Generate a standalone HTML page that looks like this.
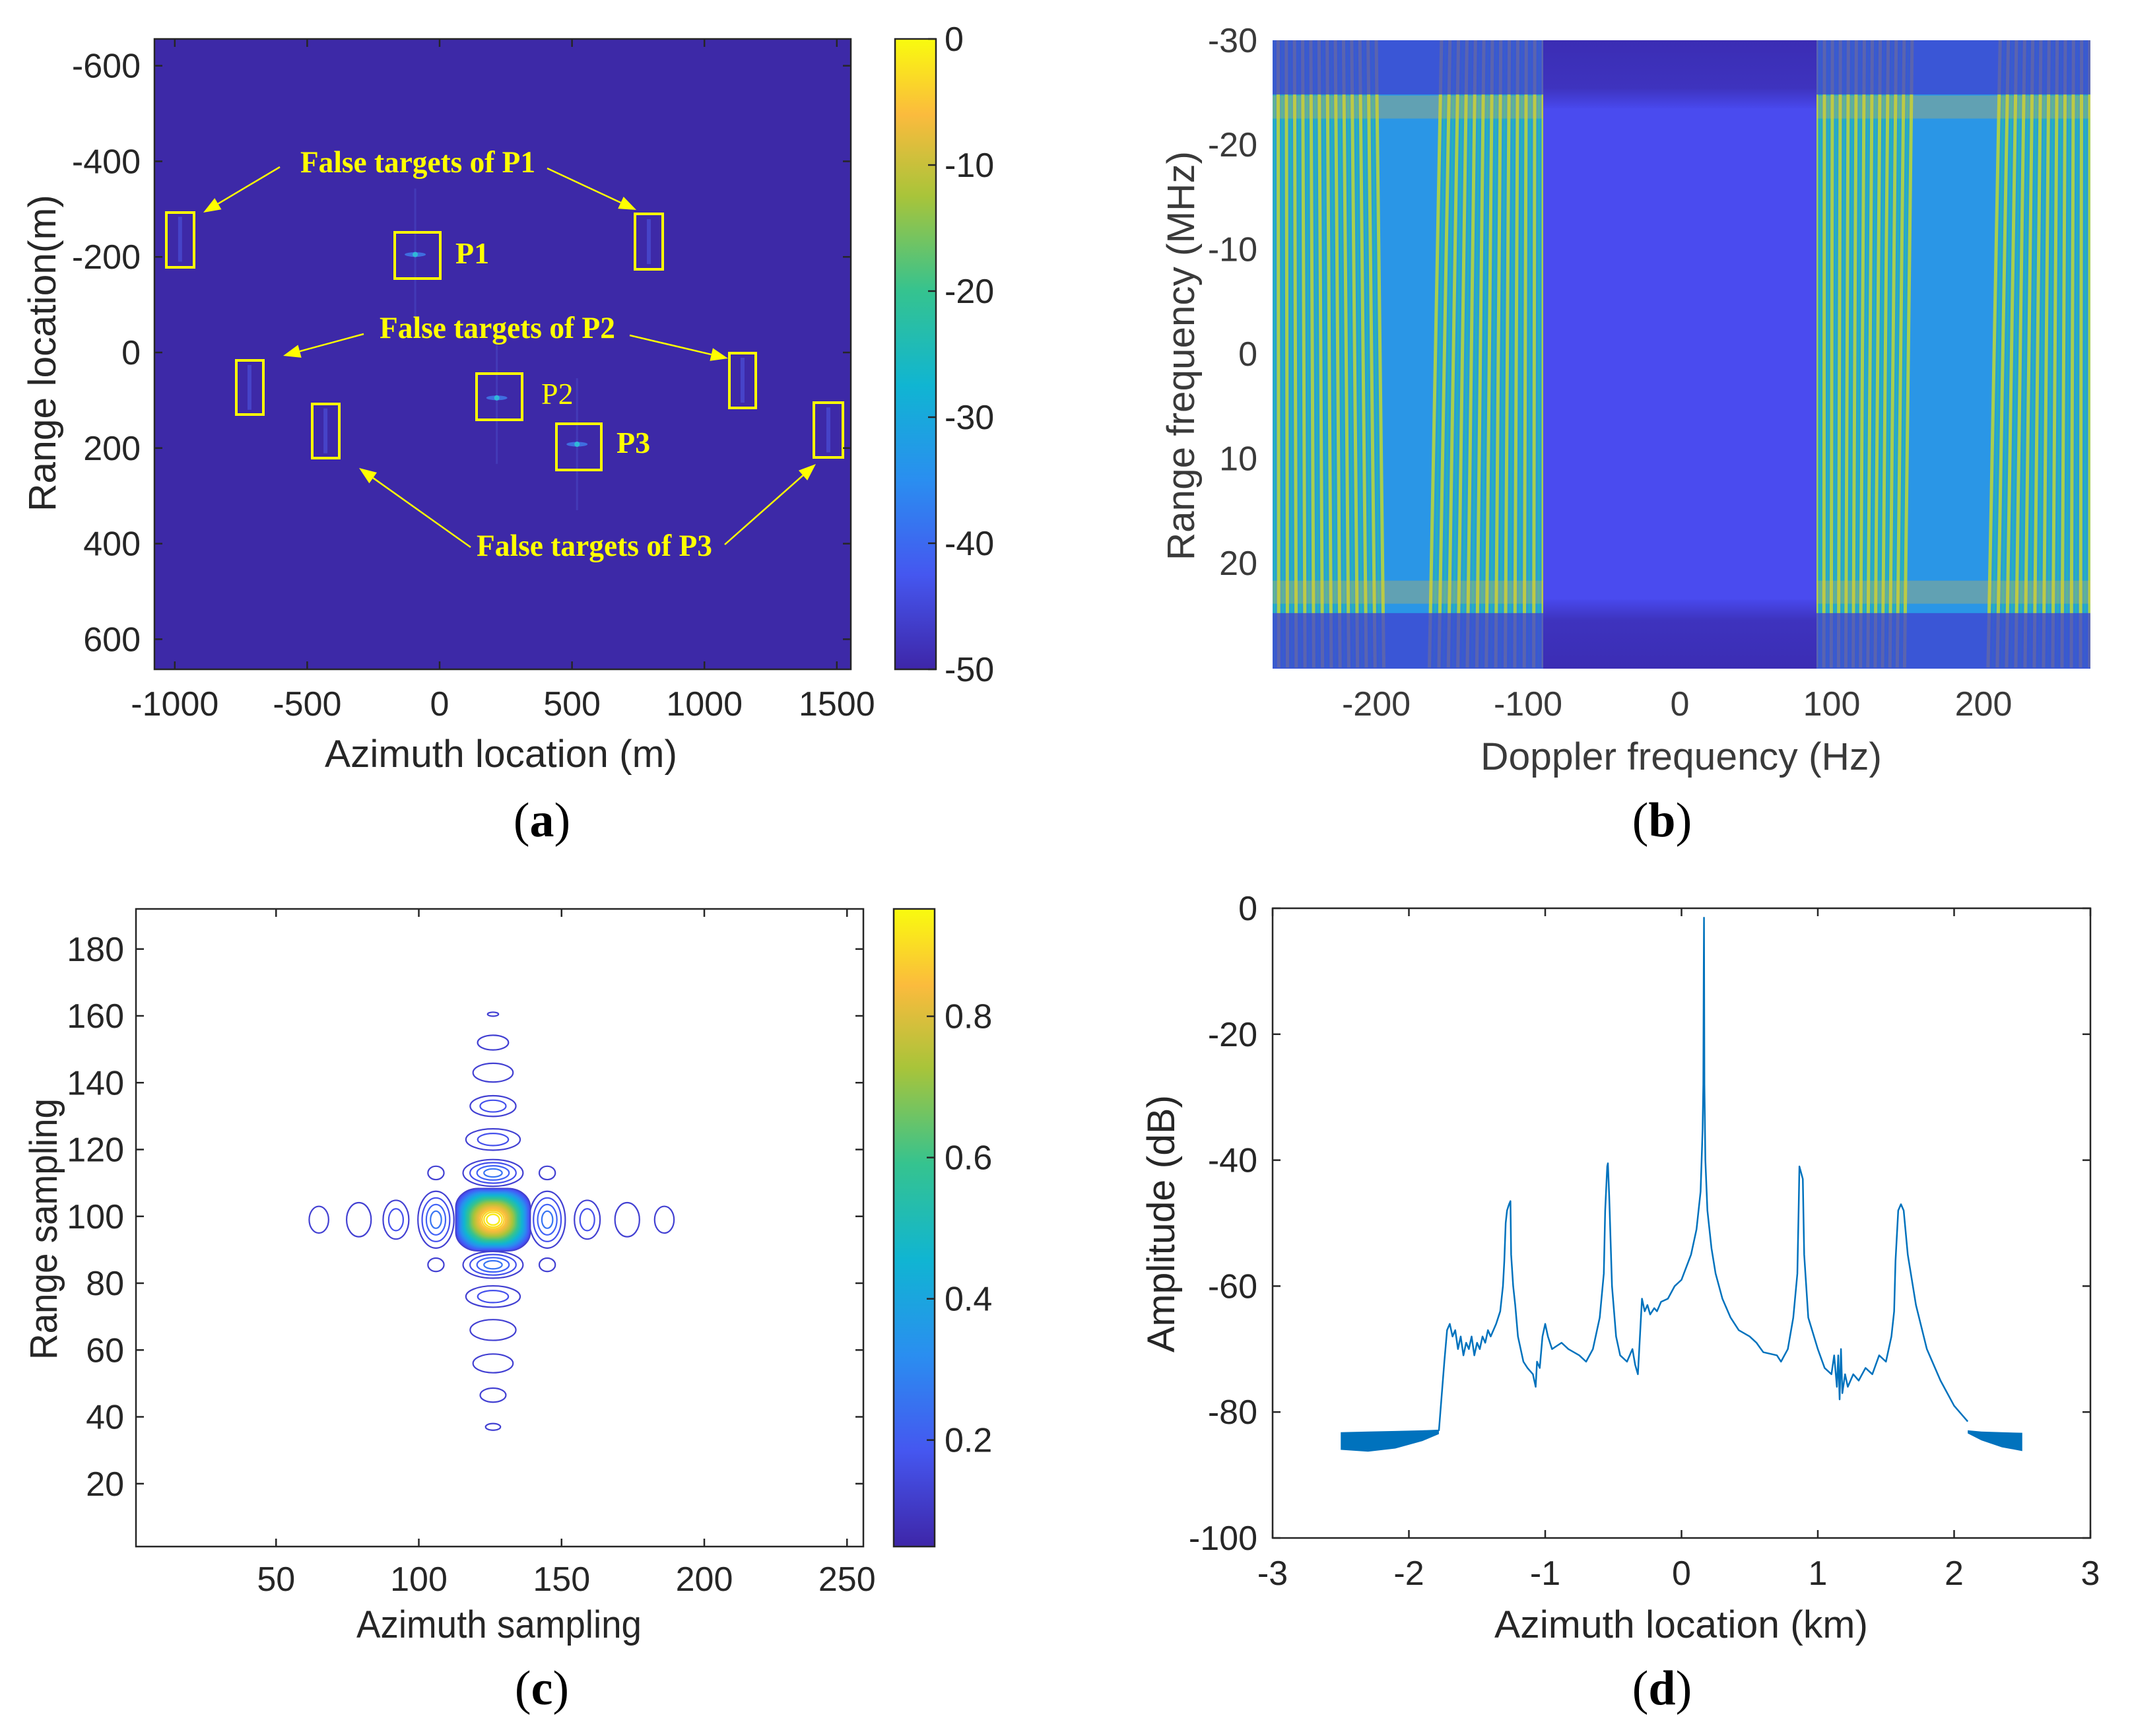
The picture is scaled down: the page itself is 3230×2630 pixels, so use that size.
<!DOCTYPE html>
<html><head><meta charset="utf-8">
<style>
html,body{margin:0;padding:0;background:#fff;}
svg{display:block;}
</style></head>
<body>
<svg id="fig" xmlns="http://www.w3.org/2000/svg" width="3230" height="2630" viewBox="0 0 3230 2630">
<defs>
<linearGradient id="parulaV" x1="0" y1="1" x2="0" y2="0">
<stop offset="0" stop-color="#3e26a8"/><stop offset="0.15" stop-color="#4557f0"/>
<stop offset="0.3" stop-color="#2a8ef0"/><stop offset="0.45" stop-color="#10b5d2"/>
<stop offset="0.6" stop-color="#35c38f"/><stop offset="0.75" stop-color="#a8c43a"/>
<stop offset="0.88" stop-color="#fbbb3d"/><stop offset="1" stop-color="#f9fb0e"/>
</linearGradient>
<linearGradient id="bTop" x1="0" y1="0" x2="0" y2="1">
<stop offset="0" stop-color="#3b2db4"/><stop offset="0.7" stop-color="#3e33be"/><stop offset="1" stop-color="#4848ec"/>
</linearGradient>
<linearGradient id="bBot" x1="0" y1="1" x2="0" y2="0">
<stop offset="0" stop-color="#3b2db4"/><stop offset="0.7" stop-color="#3e33be"/><stop offset="1" stop-color="#4848ec"/>
</linearGradient>
<clipPath id="clipB"><rect x="1928" y="61" width="1239" height="952"/></clipPath>
<clipPath id="clipA"><rect x="234" y="59" width="1055" height="955"/></clipPath>
</defs>
</svg>
<script>
// ---------- data ----------
// Panel (a)
const aXTicks = [-1000,-500,0,500,1000,1500];
const aYTicks = [-600,-400,-200,0,200,400,600];
const aCbTicks = [0,-10,-20,-30,-40,-50];
const aTargetAz = [-92,216,519];
const aTargetRg = [-205,95,192];
const aTargetNames = ['P1','P2','P3'];
const aFalseAz = [-980,790,-718,1144,-431,1468];
const aFalseRg = [-237,-232,73,58,164,162];
// Panel (b)
const bXTicks = [-200,-100,0,100,200];
const bYTicks = [-30,-20,-10,0,10,20];
const bBlockStartTop = [-270,-157,90,211];
const bBlockEndTop = [-200,-90,153,270];
const bBlockStartBot = [-270,-165,90,203];
const bBlockEndBot = [-195,-90,148,270];
const bCenterBand = [-90,90];
// Panel (c)
const cXTicks = [50,100,150,200,250];
const cYTicks = [20,40,60,80,100,120,140,160,180];
const cCbTicks = [0.2,0.4,0.6,0.8];
const cAzLobeX = [65,79,92,106,145,159,173,186];
const cAzLobeRx = [3.4,4.3,4.5,6.3,6.3,4.5,4.3,3.4];
const cAzLobeRy = [4,5.1,5.8,8.5,8.5,5.8,5.1,4];
const cAzLobeRings = [1,1,2,4,4,2,1,1];
const cRgLobeY = [160.5,152,143,133,123,113,85.5,76,66,56,46.5,37];
const cRgLobeRx = [1.9,5.4,7,8,9.5,10.5,10.5,9.5,8,7,4.5,2.6];
const cRgLobeRy = [0.6,2.2,2.8,3.1,3.2,4,4,3.2,3.1,2.8,2.1,1];
const cRgLobeRings = [1,1,1,2,2,4,4,2,1,1,1,1];
const cDiagX = [106,145,106,145];
const cDiagY = [113,113,85.5,85.5];
const cCenter = [126,99];
// Panel (d)
const dXTicks = [-3,-2,-1,0,1,2,3];
const dYTicks = [0,-20,-40,-60,-80,-100];
const dX = [-1.78,-1.74,-1.72,-1.7,-1.68,-1.66,-1.64,-1.62,-1.6,-1.58,-1.56,-1.54,-1.52,-1.5,-1.48,-1.46,-1.44,-1.42,-1.4,-1.36,-1.33,-1.31,-1.3,-1.29,-1.28,-1.265,-1.255,-1.25,-1.235,-1.22,-1.2,-1.16,-1.13,-1.09,-1.07,-1.06,-1.04,-1.02,-1.0,-0.98,-0.95,-0.88,-0.83,-0.75,-0.7,-0.65,-0.6,-0.57,-0.56,-0.545,-0.54,-0.53,-0.51,-0.48,-0.45,-0.4,-0.36,-0.34,-0.32,-0.3,-0.29,-0.27,-0.25,-0.23,-0.2,-0.18,-0.15,-0.1,-0.05,0,0.07,0.11,0.14,0.155,0.16,0.163,0.165,0.168,0.175,0.19,0.22,0.25,0.3,0.36,0.42,0.5,0.55,0.6,0.7,0.73,0.78,0.82,0.85,0.86,0.865,0.89,0.9,0.93,1.0,1.05,1.1,1.12,1.14,1.15,1.16,1.17,1.18,1.2,1.22,1.26,1.3,1.35,1.4,1.45,1.5,1.54,1.56,1.57,1.59,1.61,1.63,1.66,1.72,1.8,1.9,2.0,2.1];
const dY = [-83,-72,-67,-66,-68,-67,-70,-68,-71,-69,-70,-68,-71,-69,-70,-68,-69,-67,-68,-66,-64,-60,-56,-50,-48,-47,-46.5,-55,-60,-63,-68,-72,-73,-74,-76,-72,-73,-68,-66,-68,-70,-69,-70,-71,-72,-70,-65,-58,-48,-41,-40.5,-46,-60,-68,-71,-72,-70,-72.5,-74,-66,-62,-64,-63,-64.5,-63.5,-64,-62.5,-62,-60,-59,-55,-51,-45,-35,-28,-10,-1.5,-28,-40,-48,-54,-58,-62,-65,-67,-68,-69,-70.5,-71,-72,-70,-65,-58,-47,-41,-43,-55,-65,-70,-73,-74,-71,-76,-71,-78,-70,-77,-74,-76,-74,-75,-73,-74,-71,-72,-68,-64,-56,-48,-47,-48,-55,-63,-70,-75,-79,-81.5,-83];
const dBandLX = [-2.5,-2.3,-2.1,-1.9,-1.78];
const dBandLTop = [-83.2,-83.1,-83.0,-82.9,-82.8];
const dBandLBot = [-86,-86.3,-85.8,-84.6,-83.5];
const dBandRX = [2.1,2.2,2.35,2.5];
const dBandRTop = [-82.9,-83.1,-83.2,-83.3];
const dBandRBot = [-83.4,-84.5,-85.6,-86.2];

// ---------- helpers ----------
const NS = 'http://www.w3.org/2000/svg';
const svg = document.getElementById('fig');
function mk(tag, attrs, parent) {
  const e = document.createElementNS(NS, tag);
  for (const k in attrs) e.setAttribute(k, attrs[k]);
  (parent || svg).appendChild(e);
  return e;
}
function txt(str, attrs, parent) {
  const e = mk('text', attrs, parent);
  e.textContent = str;
  return e;
}
function parula(t) {
  const st = [[0,62,38,168],[0.15,69,87,247],[0.3,42,142,240],[0.45,16,181,210],[0.6,53,195,143],[0.75,168,196,58],[0.88,251,187,61],[1,249,251,14]];
  t = Math.max(0, Math.min(1, t));
  for (let i = 1; i < st.length; i++) {
    if (t <= st[i][0]) {
      const a = st[i-1], b = st[i], f = (t - a[0]) / (b[0] - a[0]);
      return 'rgb(' + [1,2,3].map(j => Math.round(a[j] + (b[j]-a[j])*f)).join(',') + ')';
    }
  }
  return 'rgb(249,251,14)';
}
const SANS = '"Liberation Sans", Arial, sans-serif';
const SERIF = '"Liberation Serif", "Times New Roman", serif';
function panelLabel(g, letter, x, y, name) {
  const t = mk('text', {x:x, y:y, 'text-anchor':'middle', 'font-family':SERIF, 'font-size':74, fill:'#000'}, g);
  
  
  const s1 = mk('tspan', {}, t); s1.textContent = '(';
  const s2 = mk('tspan', {'font-weight':'bold'}, t); s2.textContent = letter;
  const s3 = mk('tspan', {}, t); s3.textContent = ')';
}

// ========== Panel (a) ==========
const ax = v => 666 + v * 0.4012;
const ay = v => 534 + v * 0.724;
const gA = mk('g', {});


const aBg = mk('rect', {x:234, y:59, width:1055, height:955, fill:'#3d29a7'}, gA);


const gAc = mk('g', {'clip-path':'url(#clipA)'}, gA);
for (let i = 0; i < aFalseAz.length; i++) {
  const s = mk('rect', {x: ax(aFalseAz[i]) - 3, y: ay(aFalseRg[i]) - 34, width: 6, height: 68, fill:'#4a4fd6', opacity:0.7}, gAc);
  
  
}
for (let i = 0; i < aTargetAz.length; i++) {
  const cxp = ax(aTargetAz[i]), cyp = ay(aTargetRg[i]);
  const v = mk('rect', {x: cxp - 1.5, y: cyp - 100, width: 3, height: 200, fill:'#4642be', opacity:0.7}, gAc);
  
  
  const h = mk('ellipse', {cx: cxp, cy: cyp, rx: 16, ry: 3.5, fill:'#3f6ee0'}, gAc);
  
  
  const d = mk('ellipse', {cx: cxp, cy: cyp, rx: 4, ry: 4, fill:'#30b8d8'}, gAc);
  
  
}
const Y = '#ffff00';
const aBoxes = [[252,322,42,83],[962,324,42,84],[598,352,69,70],[358,546,41,82],[1105,535,40,83],[722,566,69,70],[473,612,41,82],[1233,610,44,83],[843,642,68,70]];
const aBoxNames = ['p1-false-left-box','p1-false-right-box','p1-box','p2-false-left-box','p2-false-right-box','p2-box','p3-false-left-box','p3-false-right-box','p3-box'];
aBoxes.forEach((b, i) => {
  const r = mk('rect', {x:b[0], y:b[1], width:b[2], height:b[3], fill:'none', stroke:Y, 'stroke-width':4}, gA);
  
  
});
function arrow(x1, y1, x2, y2, name) {
  const g = mk('g', {}, gA);
  
  
  const ang = Math.atan2(y2 - y1, x2 - x1), L = 26, W = 10;
  const bx = x2 - L * Math.cos(ang), by = y2 - L * Math.sin(ang);
  mk('line', {x1, y1, x2: bx, y2: by, stroke: Y, 'stroke-width': 2.5}, g);
  const px = -Math.sin(ang) * W, py = Math.cos(ang) * W;
  mk('polygon', {points: `${x2},${y2} ${bx+px},${by+py} ${bx-px},${by-py}`, fill: Y}, g);
}
arrow(424,253,308,322,'p1-left-arrow');
arrow(829,255,964,318,'p1-right-arrow');
arrow(551,506,429,539,'p2-left-arrow');
arrow(954,508,1103,543,'p2-right-arrow');
arrow(713,829,544,709,'p3-left-arrow');
arrow(1098,825,1236,703,'p3-right-arrow');
const a1 = txt('False targets of P1', {x:455, y:261, 'font-family':SERIF, 'font-weight':'bold', 'font-size':47, fill:Y, textLength:356, lengthAdjust:'spacingAndGlyphs'}, gA);


const a2 = txt('False targets of P2', {x:575, y:512, 'font-family':SERIF, 'font-weight':'bold', 'font-size':47, fill:Y, textLength:357, lengthAdjust:'spacingAndGlyphs'}, gA);


const a3 = txt('False targets of P3', {x:722, y:842, 'font-family':SERIF, 'font-weight':'bold', 'font-size':47, fill:Y, textLength:357, lengthAdjust:'spacingAndGlyphs'}, gA);


const lp1 = txt('P1', {x:690, y:399, 'font-family':SERIF, 'font-weight':'bold', 'font-size':46, fill:Y}, gA);


const lp2 = txt('P2', {x:820, y:612, 'font-family':SERIF, 'font-size':46, fill:Y}, gA);


const lp3 = txt('P3', {x:934, y:686, 'font-family':SERIF, 'font-weight':'bold', 'font-size':46, fill:Y}, gA);



function frame(g, x0, y0, x1, y1, name) {
  const f = mk('rect', {x:x0, y:y0, width:x1-x0, height:y1-y0, fill:'none', stroke:'#262626', 'stroke-width':2.5}, g);
  
  
}
frame(gA, 234, 59, 1289, 1014, 'panel-a-axes-box');
aXTicks.forEach(v => {
  const x = ax(v);
  mk('line', {x1:x, y1:1014, x2:x, y2:1002, stroke:'#262626', 'stroke-width':2.5}, gA);
  mk('line', {x1:x, y1:59, x2:x, y2:71, stroke:'#262626', 'stroke-width':2.5}, gA);
  const t = txt(String(v), {x:x, y:1084, 'text-anchor':'middle', 'font-family':SANS, 'font-size':52, fill:'#262626'}, gA);
  
  
});
aYTicks.forEach(v => {
  const y = ay(v);
  mk('line', {x1:234, y1:y, x2:246, y2:y, stroke:'#262626', 'stroke-width':2.5}, gA);
  mk('line', {x1:1289, y1:y, x2:1277, y2:y, stroke:'#262626', 'stroke-width':2.5}, gA);
  const t = txt(String(v), {x:213, y:y + 18, 'text-anchor':'end', 'font-family':SANS, 'font-size':52, fill:'#262626'}, gA);
  
  
});
const axl = txt('Azimuth location (m)', {x:759, y:1162, 'text-anchor':'middle', 'font-family':SANS, 'font-size':58, fill:'#262626', textLength:534, lengthAdjust:'spacingAndGlyphs'}, gA);


const ayl = txt('Range location(m)', {x:0, y:0, transform:'translate(84,535) rotate(-90)', 'text-anchor':'middle', 'font-family':SANS, 'font-size':58, fill:'#262626', textLength:480, lengthAdjust:'spacingAndGlyphs'}, gA);


const cbA = v => 59 + (0 - v) / 50 * 955;
const cbaR = mk('rect', {x:1356, y:59, width:62, height:955, fill:'url(#parulaV)', stroke:'#262626', 'stroke-width':2.5}, gA);


aCbTicks.forEach(v => {
  const y = cbA(v);
  mk('line', {x1:1406, y1:y, x2:1418, y2:y, stroke:'#262626', 'stroke-width':2.5}, gA);
  const t = txt(String(v), {x:1431, y:y + 18, 'font-family':SANS, 'font-size':52, fill:'#262626'}, gA);
  
  
});
panelLabel(gA, 'a', 821, 1267, 'panel-label-a');

// ========== Panel (b) ==========
const bx = v => 2545 + v * 2.3;
const by = v => 536 + v * 15.84;
const gB = mk('g', {});


const gBc = mk('g', {'clip-path':'url(#clipB)'}, gB);
const bBg = mk('rect', {x:1928, y:61, width:1239, height:952, fill:'#2a96e6'}, gBc);


for (let i = 0; i < bBlockStartTop.length; i++) {
  const st = bBlockStartTop[i], et = bBlockEndTop[i], sb = bBlockStartBot[i], eb = bBlockEndBot[i];
  const blk = mk('polygon', {points:`${bx(st)},${by(-30)} ${bx(et)},${by(-30)} ${bx(eb)},${by(30)} ${bx(sb)},${by(30)}`, fill:'#2a9cd6'}, gBc);
  
  
  const n = Math.round((et - st) / 5.4);
  for (let k = 0; k <= n; k++) {
    const xt = st + (et - st) * k / n, xb = sb + (eb - sb) * k / n;
    mk('line', {x1:bx(xt), y1:by(-30), x2:bx(xb), y2:by(30), stroke:'#a8cf4e', 'stroke-width':5}, gBc);
    const xt2 = xt + (et - st) / n / 2, xb2 = xb + (eb - sb) / n / 2;
    if (k < n) mk('line', {x1:bx(xt2), y1:by(-30), x2:bx(xb2), y2:by(30), stroke:'#22b2be', 'stroke-width':3}, gBc);
  }
}
[[-23.6,2.2],[22.8,2.2]].forEach(b => {
  const r = mk('rect', {x:1928, y:by(b[0]-b[1]/2), width:1239, height:b[1]*15.84, fill:'#f0c030', opacity:0.28}, gBc);
  
  
});
const bt = mk('rect', {x:1928, y:61, width:1239, height:by(-24.8)-61, fill:'#4040d0', opacity:0.75}, gBc);


const bb = mk('rect', {x:1928, y:by(24.8), width:1239, height:1013-by(24.8), fill:'#4040d0', opacity:0.75}, gBc);


const cb = mk('rect', {x:bx(bCenterBand[0]), y:61, width:bx(bCenterBand[1])-bx(bCenterBand[0]), height:952, fill:'#4a4bef'}, gBc);


mk('rect', {x:bx(bCenterBand[0]), y:61, width:bx(bCenterBand[1])-bx(bCenterBand[0]), height:by(-23.5)-61, fill:'url(#bTop)'}, gBc);
mk('rect', {x:bx(bCenterBand[0]), y:by(23.5), width:bx(bCenterBand[1])-bx(bCenterBand[0]), height:1013-by(23.5), fill:'url(#bBot)'}, gBc);
bXTicks.forEach(v => {
  const t = txt(String(v), {x:bx(v), y:1084, 'text-anchor':'middle', 'font-family':SANS, 'font-size':52, fill:'#3a3a3a'}, gB);
  
  
});
bYTicks.forEach(v => {
  const t = txt(String(v), {x:1905, y:by(v) + 18, 'text-anchor':'end', 'font-family':SANS, 'font-size':52, fill:'#3a3a3a'}, gB);
  
  
});
const bxl = txt('Doppler frequency (Hz)', {x:2547, y:1166, 'text-anchor':'middle', 'font-family':SANS, 'font-size':58, fill:'#3a3a3a', textLength:608, lengthAdjust:'spacingAndGlyphs'}, gB);


const byl = txt('Range frequency (MHz)', {x:0, y:0, transform:'translate(1809,539) rotate(-90)', 'text-anchor':'middle', 'font-family':SANS, 'font-size':58, fill:'#3a3a3a', textLength:620, lengthAdjust:'spacingAndGlyphs'}, gB);


panelLabel(gB, 'b', 2518, 1267, 'panel-label-b');

// ========== Panel (c) ==========
const cx = v => 202 + v * 4.325;
const cy = v => 2349 - v * 5.0625;
const gC = mk('g', {});


function ring(x, y, rx, ry, level, name) {
  const e = mk('ellipse', {cx: cx(x), cy: cy(y), rx: rx * 4.325, ry: ry * 5.0625, fill:'none', stroke: parula(level), 'stroke-width': 2.2}, gC);
  
  
}
for (let i = 0; i < cAzLobeX.length; i++) {
  for (let r = 0; r < cAzLobeRings[i]; r++) {
    const f = 1 - r / (cAzLobeRings[i] + 0.3);
    ring(cAzLobeX[i], cCenter[1], cAzLobeRx[i] * f, cAzLobeRy[i] * f, 0.08 + r * 0.05, 'azimuth-sidelobe-contour');
  }
}
for (let i = 0; i < cRgLobeY.length; i++) {
  for (let r = 0; r < cRgLobeRings[i]; r++) {
    const f = 1 - r / (cRgLobeRings[i] + 0.3);
    ring(cCenter[0], cRgLobeY[i], cRgLobeRx[i] * f, cRgLobeRy[i] * f, 0.08 + r * 0.05, 'range-sidelobe-contour');
  }
}
for (let i = 0; i < cDiagX.length; i++) ring(cDiagX[i], cDiagY[i], 2.8, 2, 0.08, 'diagonal-sidelobe-contour');
const NL = 34;
for (let k = 0; k < NL; k++) {
  const t = k / NL;
  const f = Math.sqrt(1 - t);
  const rx = 13 * f, ry = 9.3 * f;
  const lvl = 0.06 + t * 0.94;
  const rr = 0.6 + 0.4 * t;
  const r = mk('rect', {x: cx(cCenter[0] - rx), y: cy(cCenter[1] + ry), width: 2 * rx * 4.325, height: 2 * ry * 5.0625, rx: rx * 4.325 * rr, ry: ry * 5.0625 * rr, fill:'none', stroke: parula(lvl), 'stroke-width': 2.4}, gC);
  
  
}
frame(gC, 206, 1377, 1308, 2343, 'panel-c-axes-box');
cXTicks.forEach(v => {
  const x = cx(v);
  mk('line', {x1:x, y1:2343, x2:x, y2:2331, stroke:'#262626', 'stroke-width':2.5}, gC);
  mk('line', {x1:x, y1:1377, x2:x, y2:1389, stroke:'#262626', 'stroke-width':2.5}, gC);
  const t = txt(String(v), {x:x, y:2410, 'text-anchor':'middle', 'font-family':SANS, 'font-size':52, fill:'#262626'}, gC);
  
  
});
cYTicks.forEach(v => {
  const y = cy(v);
  mk('line', {x1:206, y1:y, x2:218, y2:y, stroke:'#262626', 'stroke-width':2.5}, gC);
  mk('line', {x1:1308, y1:y, x2:1296, y2:y, stroke:'#262626', 'stroke-width':2.5}, gC);
  const t = txt(String(v), {x:188, y:y + 18, 'text-anchor':'end', 'font-family':SANS, 'font-size':52, fill:'#262626'}, gC);
  
  
});
const cxl = txt('Azimuth sampling', {x:756, y:2481, 'text-anchor':'middle', 'font-family':SANS, 'font-size':58, fill:'#262626', textLength:432, lengthAdjust:'spacingAndGlyphs'}, gC);


const cyl = txt('Range sampling', {x:0, y:0, transform:'translate(86,1862) rotate(-90)', 'text-anchor':'middle', 'font-family':SANS, 'font-size':58, fill:'#262626', textLength:396, lengthAdjust:'spacingAndGlyphs'}, gC);


const cbC = v => 1377 + (0.952 - v) * 1070;
const cbcR = mk('rect', {x:1354, y:1377, width:62, height:966, fill:'url(#parulaV)', stroke:'#262626', 'stroke-width':2.5}, gC);


cCbTicks.forEach(v => {
  const y = cbC(v);
  mk('line', {x1:1404, y1:y, x2:1416, y2:y, stroke:'#262626', 'stroke-width':2.5}, gC);
  const t = txt(v.toFixed(1), {x:1431, y:y + 18, 'font-family':SANS, 'font-size':52, fill:'#262626'}, gC);
  
  
});
panelLabel(gC, 'c', 821, 2582, 'panel-label-c');

// ========== Panel (d) ==========
const dxf = v => 2547.5 + v * 206.5;
const dyf = v => 1376 - v * 9.54;
const gD = mk('g', {});


const dbg = mk('rect', {x:1928, y:1376, width:1239, height:954, fill:'#fff'}, gD);


function band(xs, top, bot, name) {
  const pts = [];
  xs.forEach((x, i) => pts.push(dxf(x) + ',' + dyf(top[i])));
  for (let i = xs.length - 1; i >= 0; i--) pts.push(dxf(xs[i]) + ',' + dyf(bot[i]));
  const p = mk('polygon', {points: pts.join(' '), fill:'#0072bd'}, gD);
  
  
}
band(dBandLX, dBandLTop, dBandLBot, 'left-dense-band');
band(dBandRX, dBandRTop, dBandRBot, 'right-dense-band');
const dpts = dX.map((x, i) => dxf(x) + ',' + dyf(dY[i])).join(' ');
const dl = mk('polyline', {points: dpts, fill:'none', stroke:'#0072bd', 'stroke-width':2.5, 'stroke-linejoin':'round'}, gD);


frame(gD, 1928, 1376, 3167, 2330, 'panel-d-axes-box');
dXTicks.forEach(v => {
  const x = dxf(v);
  mk('line', {x1:x, y1:2330, x2:x, y2:2318, stroke:'#262626', 'stroke-width':2.5}, gD);
  mk('line', {x1:x, y1:1376, x2:x, y2:1388, stroke:'#262626', 'stroke-width':2.5}, gD);
  const t = txt(String(v), {x:x, y:2401, 'text-anchor':'middle', 'font-family':SANS, 'font-size':52, fill:'#262626'}, gD);
  
  
});
dYTicks.forEach(v => {
  const y = dyf(v);
  mk('line', {x1:1928, y1:y, x2:1940, y2:y, stroke:'#262626', 'stroke-width':2.5}, gD);
  mk('line', {x1:3167, y1:y, x2:3155, y2:y, stroke:'#262626', 'stroke-width':2.5}, gD);
  const t = txt(String(v), {x:1905, y:y + 18, 'text-anchor':'end', 'font-family':SANS, 'font-size':52, fill:'#262626'}, gD);
  
  
});
const dxl = txt('Azimuth location (km)', {x:2547, y:2481, 'text-anchor':'middle', 'font-family':SANS, 'font-size':58, fill:'#262626', textLength:566, lengthAdjust:'spacingAndGlyphs'}, gD);


const dyl = txt('Amplitude (dB)', {x:0, y:0, transform:'translate(1779,1854) rotate(-90)', 'text-anchor':'middle', 'font-family':SANS, 'font-size':58, fill:'#262626', textLength:390, lengthAdjust:'spacingAndGlyphs'}, gD);


panelLabel(gD, 'd', 2518, 2582, 'panel-label-d');
</script>
</body></html>
